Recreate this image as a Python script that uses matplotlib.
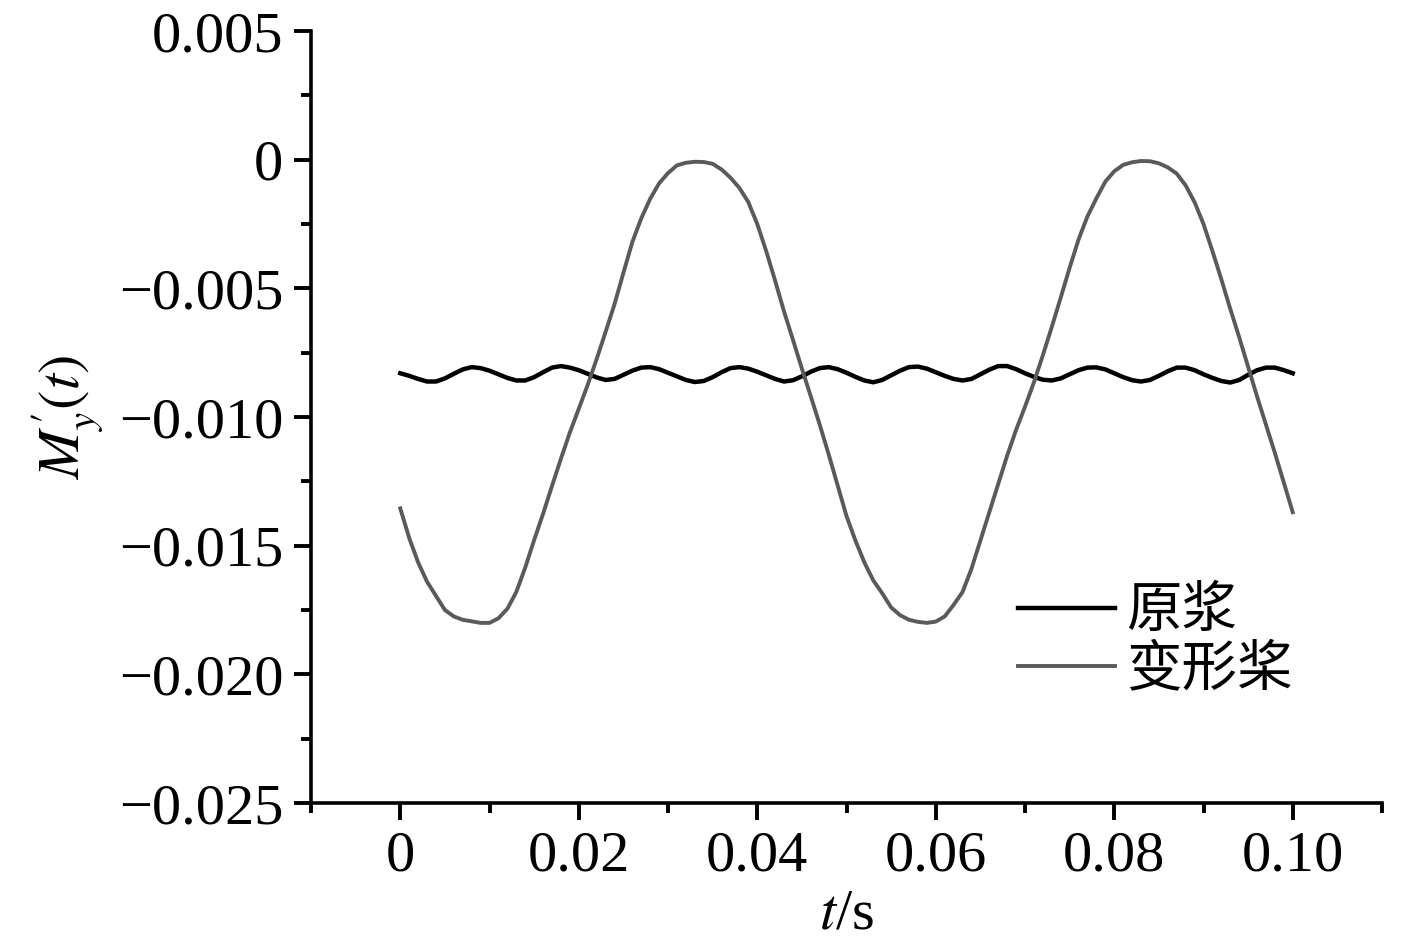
import matplotlib
matplotlib.use("Agg")
import matplotlib.pyplot as plt
from matplotlib.ticker import MultipleLocator, FixedLocator, FixedFormatter

plt.rcParams['font.family'] = ['Liberation Serif', 'Noto Sans CJK SC']
plt.rcParams['mathtext.fontset'] = 'stix'
plt.rcParams['axes.unicode_minus'] = True

# time axis, sampled every 0.001 s
t = [i * 0.001 for i in range(101)]

# 原浆 (original propeller)
m_orig = [
    -0.00830, -0.00840, -0.00852, -0.00862, -0.00862, -0.00850, -0.00832, -0.00815, -0.00806, -0.00810,
    -0.00820, -0.00834, -0.00848, -0.00858, -0.00858, -0.00845, -0.00826, -0.00808, -0.00802, -0.00808,
    -0.00818, -0.00832, -0.00846, -0.00856, -0.00852, -0.00836, -0.00820, -0.00808, -0.00806, -0.00814,
    -0.00828, -0.00842, -0.00856, -0.00864, -0.00860, -0.00845, -0.00826, -0.00810, -0.00806, -0.00812,
    -0.00824, -0.00838, -0.00852, -0.00862, -0.00857, -0.00842, -0.00824, -0.00810, -0.00806, -0.00814,
    -0.00828, -0.00844, -0.00858, -0.00865, -0.00856, -0.00838, -0.00820, -0.00806, -0.00804, -0.00812,
    -0.00826, -0.00840, -0.00852, -0.00858, -0.00852, -0.00834, -0.00816, -0.00802, -0.00802, -0.00814,
    -0.00830, -0.00844, -0.00855, -0.00858, -0.00850, -0.00834, -0.00818, -0.00808, -0.00807, -0.00815,
    -0.00830, -0.00845, -0.00857, -0.00862, -0.00856, -0.00840, -0.00822, -0.00808, -0.00808, -0.00818,
    -0.00834, -0.00848, -0.00860, -0.00866, -0.00856, -0.00836, -0.00818, -0.00808, -0.00808, -0.00818,
    -0.00830,
]

# 变形桨 (deformed propeller)
m_def = [
    -0.01355, -0.01470, -0.01565, -0.01640, -0.01695, -0.01750, -0.01775, -0.01788, -0.01794, -0.01800,
    -0.01800, -0.01782, -0.01745, -0.01680, -0.01585, -0.01478, -0.01376, -0.01268, -0.01162, -0.01060,
    -0.00968, -0.00875, -0.00775, -0.00670, -0.00562, -0.00440, -0.00320, -0.00228, -0.00152, -0.00092,
    -0.00052, -0.00022, -0.00012, -0.00008, -0.00009, -0.00016, -0.00038, -0.00070, -0.00110, -0.00165,
    -0.00250, -0.00355, -0.00470, -0.00590, -0.00700, -0.00812, -0.00920, -0.01030, -0.01145, -0.01265,
    -0.01385, -0.01480, -0.01565, -0.01635, -0.01685, -0.01740, -0.01770, -0.01788, -0.01796, -0.01800,
    -0.01795, -0.01775, -0.01730, -0.01680, -0.01590, -0.01480, -0.01370, -0.01260, -0.01150, -0.01050,
    -0.00960, -0.00865, -0.00760, -0.00650, -0.00536, -0.00420, -0.00310, -0.00220, -0.00150, -0.00085,
    -0.00045, -0.00020, -0.00010, -0.00005, -0.00006, -0.00014, -0.00030, -0.00054, -0.00100, -0.00165,
    -0.00250, -0.00355, -0.00465, -0.00580, -0.00690, -0.00805, -0.00920, -0.01030, -0.01140, -0.01255,
    -0.01370,
]

x_ticks = [0, 0.02, 0.04, 0.06, 0.08, 0.10]
x_labels = ['0', '0.02', '0.04', '0.06', '0.08', '0.10']
y_ticks = [0.005, 0, -0.005, -0.010, -0.015, -0.020, -0.025]
y_labels = ['0.005', '0', '\u22120.005', '\u22120.010', '\u22120.015', '\u22120.020', '\u22120.025']

fig = plt.figure(figsize=(14.17, 9.52), dpi=100)
ax = fig.add_axes([0.2195, 0.1565, 0.7558, 0.8109])

ax.plot(t, m_orig, color='black', linewidth=3.2, label='原浆')
ax.plot(t, m_def, color='#5a5a5a', linewidth=2.8, label='变形桨')

ax.set_xlim(-0.01, 0.11)
ax.set_ylim(-0.025, 0.005)

ax.xaxis.set_major_locator(FixedLocator(x_ticks))
ax.xaxis.set_major_formatter(FixedFormatter(x_labels))
ax.xaxis.set_minor_locator(MultipleLocator(0.01))
ax.yaxis.set_major_locator(FixedLocator(y_ticks))
ax.yaxis.set_major_formatter(FixedFormatter(y_labels))
ax.yaxis.set_minor_locator(MultipleLocator(0.0025))

for side in ['top', 'right']:
    ax.spines[side].set_visible(False)
for side in ['left', 'bottom']:
    ax.spines[side].set_linewidth(2.6)

ax.tick_params(which='major', direction='out', length=12, width=2.8, labelsize=42, pad=8)
ax.tick_params(which='minor', direction='out', length=7, width=2.8)

ax.set_xlabel(r'$t$/s', fontsize=42, labelpad=4)
ax.set_ylabel(r"$M^{\prime}_{y}(t)$", fontsize=42, labelpad=10)

leg = ax.legend(loc='upper left', bbox_to_anchor=(0.66, 0.285), frameon=False,
                handlelength=1.75, handletextpad=0.2,
                labelspacing=0.0, borderaxespad=0, borderpad=0,
                prop={'family': 'Noto Sans CJK SC', 'size': 40})

fig.savefig('out.png', dpi=100)
